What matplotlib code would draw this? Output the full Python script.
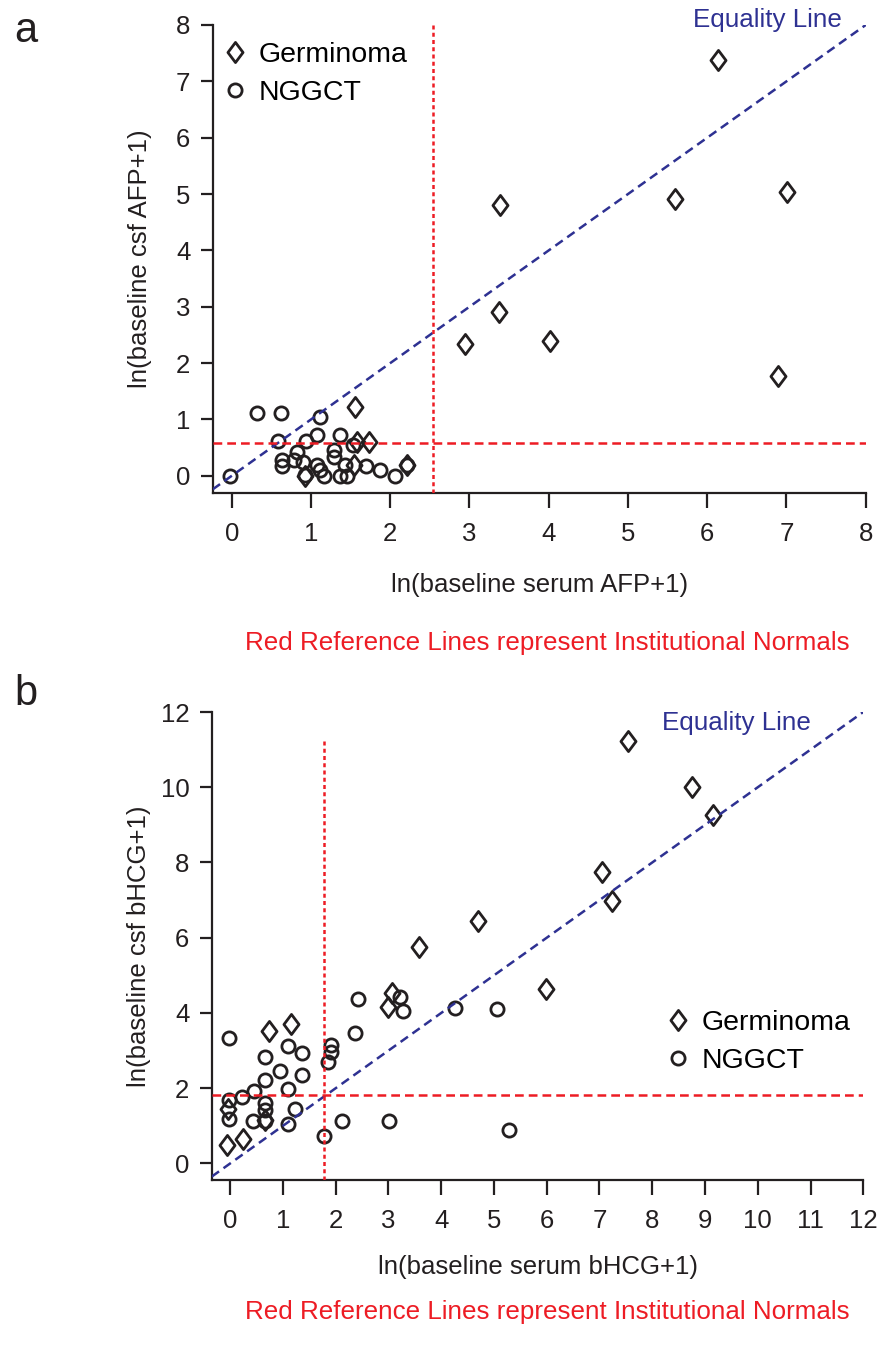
import matplotlib
matplotlib.use("Agg")
import matplotlib.pyplot as plt
from matplotlib.path import Path
from matplotlib.lines import Line2D

plt.rcParams["font.family"] = ["Liberation Sans", "DejaVu Sans"]

INK = "#231f20"
RED = "#ed1c24"
NAVY = "#2e3192"

# panel a: AFP (ln scale)
a_germ_x = [6.14, 3.38, 5.59, 7.01, 3.37, 2.94, 4.02, 6.89, 1.56, 1.58, 1.73, 2.21, 1.54, 0.92]
a_germ_y = [7.38, 4.80, 4.91, 5.04, 2.90, 2.34, 2.40, 1.78, 1.23, 0.60, 0.60, 0.19, 0.19, 0.00]
a_ngg_x = [-0.02, 0.32, 0.62, 1.11, 0.58, 0.94, 1.07, 1.37, 1.53, 0.83, 0.64, 0.64, 0.79, 0.90,
           0.92, 1.07, 1.11, 1.16, 1.29, 1.29, 1.37, 1.45, 1.43, 1.70, 1.87, 2.06, 2.21]
a_ngg_y = [0.00, 1.11, 1.11, 1.04, 0.62, 0.62, 0.72, 0.72, 0.55, 0.43, 0.28, 0.17, 0.28, 0.25,
           0.01, 0.19, 0.10, 0.00, 0.34, 0.46, 0.00, 0.00, 0.19, 0.17, 0.10, 0.00, 0.19]
a_norm_x, a_norm_y = 2.54, 0.59
a_ticks_x = list(range(0, 9))
a_ticks_y = list(range(0, 9))

# panel b: bHCG (ln scale)
b_germ_x = [7.54, 8.76, 9.15, 7.05, 7.23, 4.69, 3.57, 5.98, 3.06, 3.00, 0.73, 1.15, -0.06, 0.25, -0.05, 0.66]
b_germ_y = [11.24, 10.00, 9.25, 7.74, 6.98, 6.44, 5.76, 4.63, 4.52, 4.17, 3.53, 3.70, 0.49, 0.66, 1.45, 1.15]
b_ngg_x = [-0.02, 1.09, 0.66, 1.37, 0.95, 0.66, 1.37, 1.09, 0.45, 0.22, -0.02, -0.02, 0.66, 0.66, 0.66, 0.44,
           1.23, 1.09, 1.77, 2.12, 3.01, 1.91, 1.91, 1.85, 2.37, 2.43, 3.22, 3.27, 4.26, 5.06, 5.29]
b_ngg_y = [3.34, 3.13, 2.84, 2.93, 2.45, 2.23, 2.34, 1.98, 1.93, 1.77, 1.68, 1.17, 1.61, 1.42, 1.12, 1.13,
           1.44, 1.05, 0.73, 1.13, 1.13, 3.15, 2.97, 2.70, 3.48, 4.36, 4.43, 4.06, 4.12, 4.10, 0.89]
b_norm_x, b_norm_y = 1.78, 1.82
b_ticks_x = list(range(0, 13))
b_ticks_y = list(range(0, 13, 2))

DIAMOND = Path([(0, 1), (0.75, 0), (0, -1), (-0.75, 0), (0, 1)], closed=True)
germ_kw = dict(ls="none", marker=DIAMOND, ms=14.5, mfc="none", mec=INK, mew=2.0)
ngg_kw = dict(ls="none", marker="o", ms=9.5, mfc="none", mec=INK, mew=2.0)

W, H = 882, 1357
fig = plt.figure(figsize=(W / 100, H / 100), dpi=100)


def panel(rect, gx, gy, nx, ny, xlim, ylim, xt, yt, norm_x, norm_y, vtop, xlab, ylab,
          leg_anchor, eq_pos, xlab_y):
    ax = fig.add_axes(rect)
    ax.plot(gx, gy, **germ_kw, zorder=3)
    ax.plot(nx, ny, **ngg_kw, zorder=3)
    ax.plot([xlim[0], xlim[1]], [xlim[0], xlim[1]], color=NAVY, lw=1.8, dashes=(3.6, 2.2), zorder=4)
    ax.plot([xlim[0], xlim[1]], [norm_y, norm_y], color=RED, lw=1.8, dashes=(3.5, 2), zorder=4)
    ax.plot([norm_x, norm_x], [ylim[0], vtop], color=RED, lw=1.8, dashes=(1.6, 1.3), zorder=4)
    ax.set_xlim(*xlim)
    ax.set_ylim(*ylim)
    ax.set_xticks(xt)
    ax.set_yticks(yt)
    ax.spines[["top", "right"]].set_visible(False)
    for s in ("left", "bottom"):
        ax.spines[s].set_linewidth(1.6)
        ax.spines[s].set_color(INK)
    ax.spines["left"].set_bounds(ylim[0], yt[-1])
    ax.spines["bottom"].set_bounds(xlim[0], xt[-1])
    ax.tick_params(axis="x", length=11, width=1.6, pad=10, labelsize=18.5, color=INK, labelcolor=INK)
    ax.tick_params(axis="y", length=9, width=1.6, pad=7, labelsize=18.5, color=INK, labelcolor=INK)
    ax.set_xlabel(xlab, fontsize=18.5, color=INK)
    ax.set_ylabel(ylab, fontsize=18.5, color=INK)
    ax.xaxis.set_label_coords(0.5, xlab_y)
    ax.yaxis.set_label_coords(-0.093, 0.5)
    handles = [Line2D([], [], **germ_kw), Line2D([], [], **ngg_kw)]
    ax.legend(handles, ["Germinoma", "NGGCT"], loc="upper left", bbox_to_anchor=leg_anchor,
              frameon=False, fontsize=20.5, handlelength=1.0, handletextpad=0.32,
              labelspacing=0.42, borderpad=0, borderaxespad=0, numpoints=1)
    ax.text(eq_pos[0], eq_pos[1], "Equality Line", transform=ax.transAxes, color=NAVY,
            fontsize=18.7, ha="left", va="center", clip_on=False)
    ax.patch.set_alpha(0)
    return ax


def px_rect(l, t, r, b):
    return [l / W, 1 - b / H, (r - l) / W, (b - t) / H]


panel(px_rect(212.7, 25, 865.7, 493.3), a_germ_x, a_germ_y, a_ngg_x, a_ngg_y,
      (-0.24, 8), (-0.31, 8), a_ticks_x, a_ticks_y, a_norm_x, a_norm_y, 8,
      "ln(baseline serum AFP+1)", "ln(baseline csf AFP+1)",
      (0.013, 0.963), (0.7355, 1.0107), -0.170)

panel(px_rect(211.7, 712, 863.3, 1180), b_germ_x, b_germ_y, b_ngg_x, b_ngg_y,
      (-0.35, 12), (-0.44, 12), b_ticks_x, b_ticks_y, b_norm_x, b_norm_y, 11.3,
      "ln(baseline serum bHCG+1)", "ln(baseline csf bHCG+1)",
      (0.694, 0.363), (0.691, 0.9765), -0.160)

note = "Red Reference Lines represent Institutional Normals"
fig.text(547 / W, 1 - 643 / H, note, color=RED, fontsize=18.7, ha="center", va="center")
fig.text(547 / W, 1 - 1312 / H, note, color=RED, fontsize=18.7, ha="center", va="center")
fig.text(14 / W, 1 - 42 / H, "a", fontsize=30, color=INK, ha="left", va="baseline")
fig.text(14 / W, 1 - 705 / H, "b", fontsize=30, color=INK, ha="left", va="baseline")

fig.savefig("out.png", dpi=100)
